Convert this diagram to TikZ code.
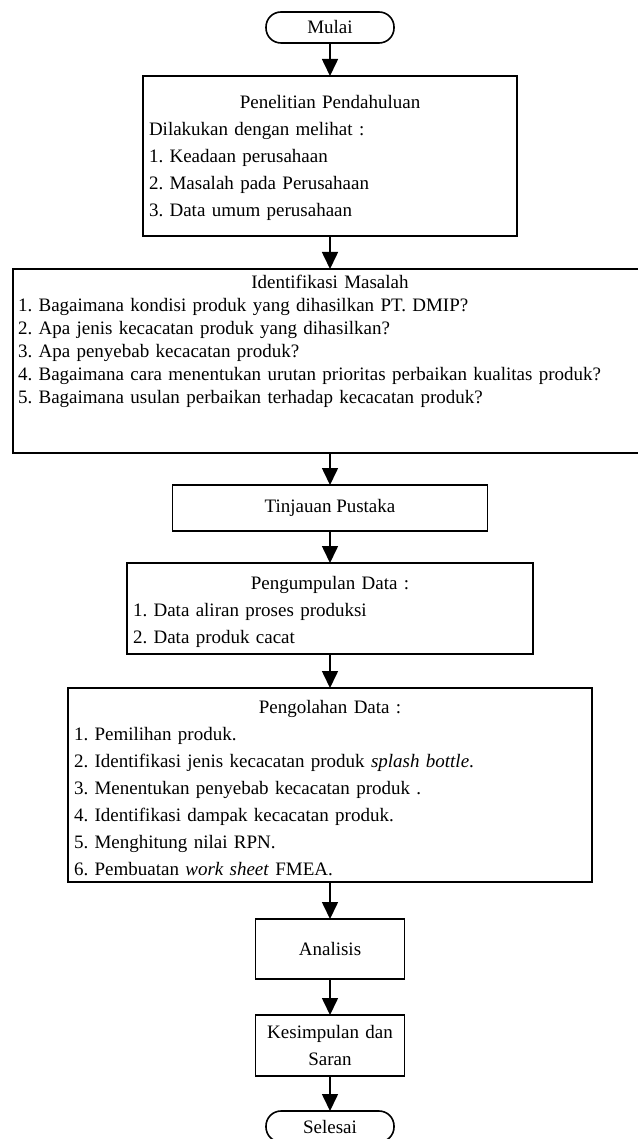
\documentclass[tikz,border=0pt]{standalone}
\usepackage{fontspec}
\setmainfont{Liberation Serif}
\usetikzlibrary{positioning,arrows.meta}
\newcommand{\judul}[1]{\makebox[\linewidth][c]{#1}}

\begin{document}
\frenchspacing
\begin{tikzpicture}[node distance=33pt, >={Triangle[length=17pt,width=16pt]}, line width=1.6pt,
	font=\fontsize{19}{27}\selectfont,
	terminal/.style={draw, rounded corners=15pt, minimum width=128pt, minimum height=31pt, inner sep=0pt, outer sep=0pt},
	proses/.style={draw, align=center, inner sep=0pt, outer sep=0pt},
	daftar/.style={draw, align=left, inner xsep=6pt, inner ysep=5pt, outer sep=0pt}]
\useasboundingbox (0,0) rectangle (637pt,-1139pt);
\node[terminal] (mulai) at (330pt,-27.5pt) {Mulai};
\node[daftar, text width=362pt, text height=28pt, text depth=122pt] (awal) [below=of mulai]
	{\judul{Penelitian Pendahuluan}\\ Dilakukan dengan melihat :\\ 1. Keadaan perusahaan\\
	2. Masalah pada Perusahaan\\ 3. Data umum perusahaan};
\node[daftar, inner xsep=5pt, text width=624pt, text height=14pt, text depth=160pt,
	font=\fontsize{19}{23}\selectfont] (masalah) [below=of awal]
	{\judul{Identifikasi Masalah}\\ 1. Bagaimana kondisi produk yang dihasilkan PT. DMIP?\\
	2. Apa jenis kecacatan produk yang dihasilkan?\\ 3. Apa penyebab kecacatan produk?\\
	4. Bagaimana cara menentukan urutan prioritas perbaikan kualitas produk?\\
	5. Bagaimana usulan perbaikan terhadap kecacatan produk?};
\node[proses, minimum width=315pt, minimum height=46pt] (pustaka) [below=32pt of masalah] {Tinjauan Pustaka};
\node[daftar, text width=394pt, text height=21pt, text depth=60pt] (kumpul) [below=32pt of pustaka]
	{\judul{Pengumpulan Data :}\\ 1. Data aliran proses produksi\\ 2. Data produk cacat};
\node[daftar, text width=512pt, text height=20pt, text depth=164pt] (olah) [below=34pt of kumpul]
	{\judul{Pengolahan Data :}\\ 1. Pemilihan produk.\\
	2. Identifikasi jenis kecacatan produk \textit{splash bottle}.\\
	3. Menentukan penyebab kecacatan produk .\\ 4. Identifikasi dampak kecacatan produk.\\
	5. Menghitung nilai RPN.\\ 6. Pembuatan \textit{work sheet} FMEA.};
\node[proses, minimum width=149pt, minimum height=60pt] (analisis) [below=37pt of olah] {Analisis};
\node[proses, text width=149pt, minimum height=61pt] (simpul) [below=36pt of analisis] {Kesimpulan dan\\ Saran};
\node[terminal] (selesai) [below=35pt of simpul] {Selesai};
\path[->]
(mulai) edge (awal)
(awal) edge (masalah)
(masalah) edge (pustaka)
(pustaka) edge (kumpul)
(kumpul) edge (olah)
(olah) edge (analisis)
(analisis) edge (simpul)
(simpul) edge (selesai);
\end{tikzpicture}
\end{document}
